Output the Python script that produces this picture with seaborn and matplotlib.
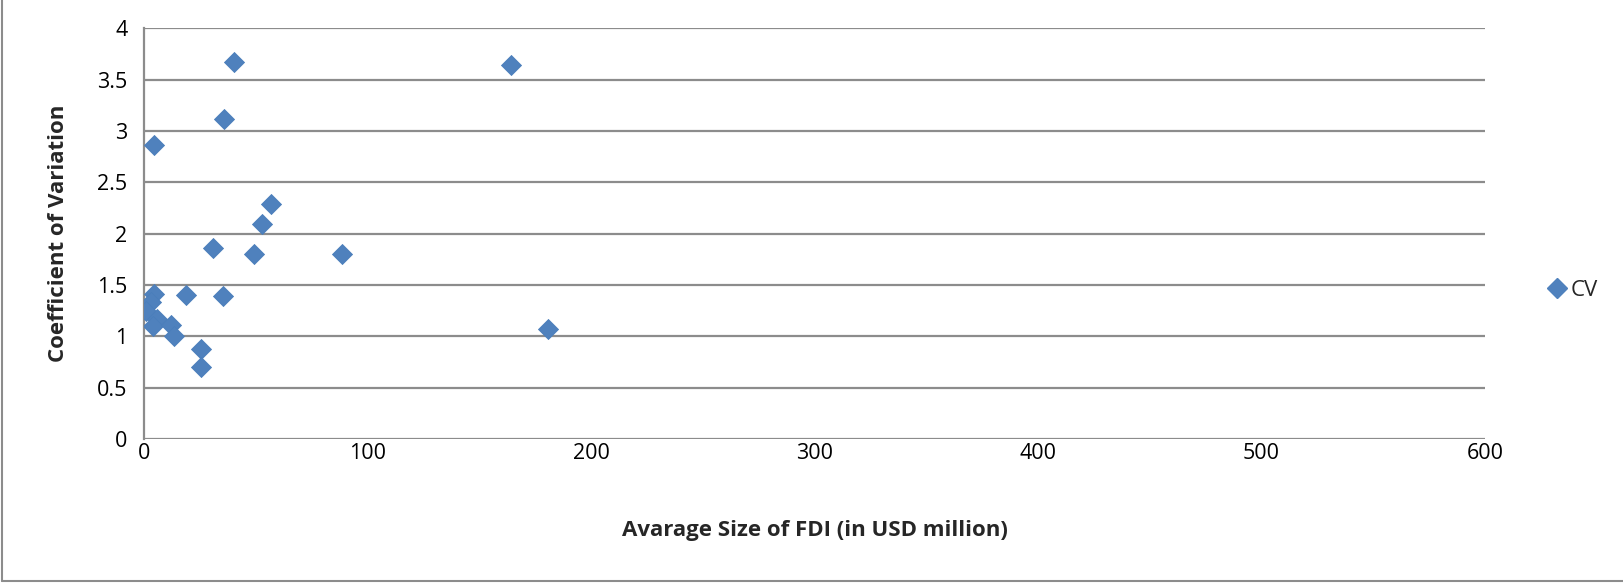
import matplotlib
matplotlib.use("Agg")
import matplotlib.pyplot as plt
import seaborn as sns
import pandas as pd
from matplotlib.lines import Line2D

# Average FDI size (USD million) and coefficient of variation per country
avg_size = [4.5, 3.0, 1.0, 6.0, 4.0, 12.0, 13.5, 19.0, 35.2, 25.4, 25.4,
            40.3, 35.9, 4.5, 56.7, 52.7, 30.7, 49.2, 88.7, 164.2, 180.9]
cv = [1.41, 1.34, 1.25, 1.17, 1.10, 1.11, 1.00, 1.40, 1.39, 0.88, 0.70,
      3.67, 3.12, 2.86, 2.29, 2.09, 1.86, 1.80, 1.80, 3.64, 1.07]

x_ticks = [0, 100, 200, 300, 400, 500, 600]
y_ticks = [0, 0.5, 1, 1.5, 2, 2.5, 3, 3.5, 4]
y_tick_labels = ["0", "0.5", "1", "1.5", "2", "2.5", "3", "3.5", "4"]

df = pd.DataFrame({"size": avg_size, "cv": cv})

sns.set_theme(style="white")
plt.rcParams["font.family"] = ["Open Sans", "DejaVu Sans"]

W, H = 1623, 583
fig = plt.figure(figsize=(W / 100, H / 100), dpi=100)
ax = fig.add_axes([144 / W, 1 - 439.2 / H, (1485 - 144) / W, (439.2 - 28.2) / H])

blue = "#4F81BD"
sns.scatterplot(data=df, x="size", y="cv", ax=ax, marker="D", s=104,
                color=blue, edgecolor="#4A7EBB", linewidth=0.6, legend=False,
                zorder=3)

ax.set_xlim(0, 600)
ax.set_ylim(0, 4)
ax.set_xticks(x_ticks)
ax.set_yticks(y_ticks)
ax.set_yticklabels(y_tick_labels)
ax.tick_params(axis="both", length=0, labelsize=15.5, labelcolor="black")
ax.tick_params(axis="x", pad=3)
ax.tick_params(axis="y", pad=12)

ax.yaxis.grid(True, color="#8c8c8c", linewidth=1.6)
ax.xaxis.grid(False)
for side in ["top", "right", "bottom"]:
    ax.spines[side].set_visible(False)
ax.spines["left"].set_color("#8c8c8c")
ax.spines["left"].set_linewidth(1.6)

ax.set_xlabel("Avarage Size of FDI (in USD million)", fontsize=16,
              fontweight="bold", labelpad=40)
ax.set_ylabel("Coefficient of Variation", fontsize=16, fontweight="bold",
              labelpad=20)

handle = Line2D([], [], marker="D", linestyle="none", color=blue,
                markersize=10)
fig.legend([handle], ["CV"], loc="center left",
           bbox_to_anchor=(1537 / W, 1 - 290 / H), frameon=False,
           fontsize=16, handletextpad=0.1, handlelength=1.0,
           borderaxespad=0)

# Chart-area border along the left and bottom edges
fig.add_artist(Line2D([1.5 / W, 1.5 / W], [2 / H, 1], transform=fig.transFigure,
                      color="#8c8c8c", linewidth=1.5))
fig.add_artist(Line2D([1.5 / W, 1], [2 / H, 2 / H], transform=fig.transFigure,
                      color="#8c8c8c", linewidth=1.5))

fig.savefig("out.png", dpi=100, facecolor="white")
